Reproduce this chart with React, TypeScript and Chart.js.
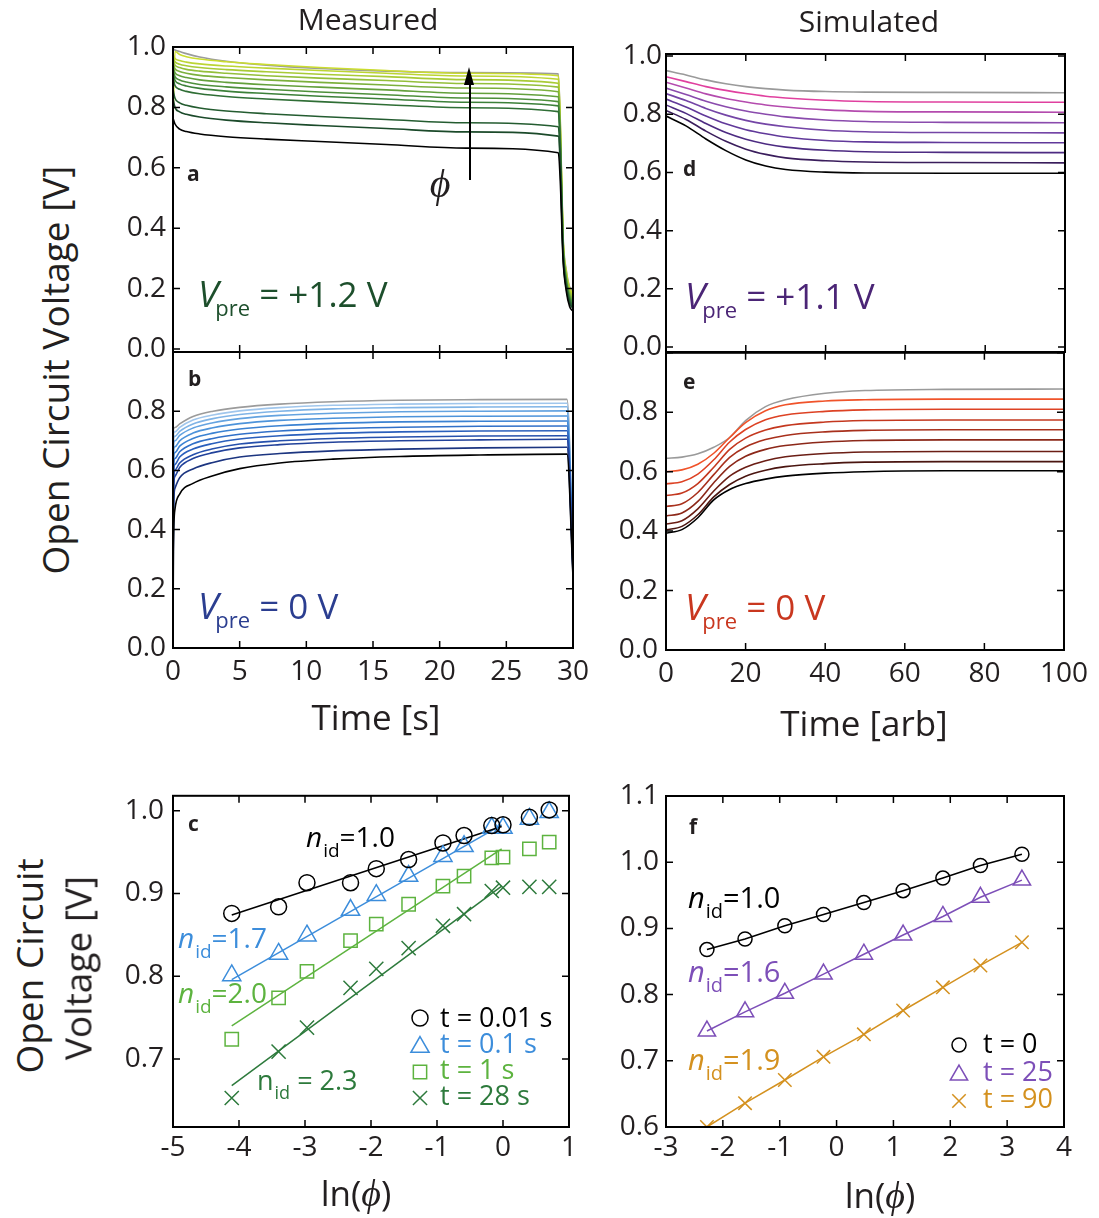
import React, { useEffect, useRef } from 'react';
import { Chart, registerables } from 'chart.js';
import { drawPoint } from 'chart.js/helpers';

Chart.register(...registerables);

const FONT = '"Open Sans", "Liberation Sans", sans-serif';
const SERIF = '"Liberation Serif", "DejaVu Serif", serif';
const INK = '#231f20';
const PHI = '\u03D5';

// ---------- Panel a: measured, Vpre = +1.2 V ----------
const timeA = [0, 0.15, 0.5, 1, 2, 4, 7, 11, 16, 22, 28.9, 29.05, 29.25, 29.5, 29.75, 30];
const vocA = [
  [0.765, 0.745, 0.728, 0.72, 0.712, 0.703, 0.695, 0.687, 0.677, 0.665, 0.65, 0.55, 0.3, 0.19, 0.14, 0.125],
  [0.83, 0.8, 0.785, 0.777, 0.768, 0.758, 0.749, 0.74, 0.73, 0.719, 0.705, 0.6, 0.31, 0.2, 0.15, 0.135],
  [0.86, 0.83, 0.815, 0.807, 0.798, 0.788, 0.779, 0.77, 0.76, 0.749, 0.736, 0.62, 0.32, 0.21, 0.155, 0.14],
  [0.9, 0.872, 0.86, 0.853, 0.845, 0.836, 0.828, 0.819, 0.809, 0.799, 0.786, 0.66, 0.33, 0.215, 0.16, 0.145],
  [0.915, 0.89, 0.878, 0.871, 0.863, 0.854, 0.846, 0.837, 0.828, 0.817, 0.805, 0.67, 0.34, 0.22, 0.165, 0.15],
  [0.925, 0.902, 0.891, 0.884, 0.876, 0.868, 0.86, 0.851, 0.842, 0.831, 0.819, 0.68, 0.34, 0.225, 0.17, 0.155],
  [0.935, 0.915, 0.905, 0.899, 0.891, 0.883, 0.875, 0.867, 0.858, 0.847, 0.835, 0.69, 0.35, 0.23, 0.175, 0.16],
  [0.945, 0.928, 0.919, 0.913, 0.906, 0.899, 0.891, 0.883, 0.874, 0.864, 0.852, 0.7, 0.35, 0.235, 0.18, 0.165],
  [0.955, 0.94, 0.932, 0.926, 0.92, 0.913, 0.905, 0.897, 0.889, 0.879, 0.867, 0.71, 0.36, 0.24, 0.185, 0.17],
  [0.965, 0.951, 0.943, 0.938, 0.932, 0.925, 0.918, 0.91, 0.902, 0.892, 0.88, 0.72, 0.36, 0.245, 0.19, 0.175],
  [0.975, 0.962, 0.955, 0.95, 0.944, 0.937, 0.93, 0.922, 0.913, 0.904, 0.893, 0.73, 0.37, 0.25, 0.195, 0.18],
  [0.75, 0.985, 0.975, 0.968, 0.96, 0.951, 0.942, 0.932, 0.922, 0.913, 0.905, 0.74, 0.37, 0.255, 0.2, 0.185],
  [0.995, 0.99, 0.985, 0.978, 0.967, 0.953, 0.94, 0.929, 0.92, 0.915, 0.911, 0.75, 0.38, 0.26, 0.205, 0.19],
];
const colorsA = ['#000000', '#1b4a2a', '#245c30', '#2f6e35', '#3c8039', '#4e903b', '#64a03c', '#7cb03c', '#94bf3a', '#a9cb36', '#bcd533', '#cbdd2f', '#9b9b9b'];

// ---------- Panel b: measured, Vpre = 0 V ----------
const timeB = [0, 0.03, 0.15, 0.5, 1.5, 3, 5, 8, 12, 17, 23, 29.55, 30];
const vocB = [
  [0, 0.33, 0.47, 0.52, 0.556, 0.582, 0.606, 0.625, 0.638, 0.647, 0.652, 0.655, 0.24],
  [0, 0.45, 0.54, 0.575, 0.605, 0.627, 0.645, 0.657, 0.666, 0.672, 0.676, 0.678, 0.25],
  [0, 0.52, 0.58, 0.61, 0.64, 0.66, 0.676, 0.687, 0.695, 0.7, 0.703, 0.705, 0.26],
  [0, 0.55, 0.6, 0.625, 0.653, 0.673, 0.689, 0.7, 0.708, 0.713, 0.716, 0.717, 0.27],
  [0, 0.58, 0.62, 0.645, 0.672, 0.691, 0.706, 0.717, 0.725, 0.73, 0.733, 0.734, 0.28],
  [0, 0.61, 0.64, 0.663, 0.69, 0.708, 0.722, 0.733, 0.741, 0.746, 0.749, 0.75, 0.28],
  [0, 0.64, 0.66, 0.682, 0.708, 0.726, 0.74, 0.751, 0.759, 0.764, 0.766, 0.767, 0.29],
  [0, 0.67, 0.68, 0.7, 0.726, 0.744, 0.758, 0.769, 0.776, 0.781, 0.783, 0.784, 0.3],
  [0, 0.69, 0.7, 0.718, 0.743, 0.761, 0.775, 0.786, 0.793, 0.798, 0.8, 0.801, 0.3],
  [0, 0.71, 0.715, 0.732, 0.757, 0.775, 0.789, 0.8, 0.808, 0.812, 0.814, 0.815, 0.31],
  [0, 0.725, 0.73, 0.745, 0.77, 0.787, 0.801, 0.812, 0.82, 0.824, 0.826, 0.827, 0.31],
  [0, 0.74, 0.745, 0.757, 0.782, 0.8, 0.813, 0.824, 0.832, 0.837, 0.839, 0.84, 0.32],
];
const colorsB = ['#000000', '#1c3580', '#22429a', '#2650ac', '#2a5fbc', '#3170c8', '#3b82d2', '#4d93da', '#64a3e0', '#80b4e6', '#a0c6ec', '#9b9b9b'];

// ---------- Panel d: simulated, Vpre = +1.1 V ----------
const timeD = [0, 5, 10, 15, 20, 25, 30, 40, 50, 70, 100];
const vocD = [
  [0.794, 0.76, 0.715, 0.675, 0.643, 0.622, 0.61, 0.601, 0.598, 0.597, 0.597],
  [0.813, 0.782, 0.742, 0.707, 0.68, 0.662, 0.65, 0.64, 0.636, 0.634, 0.633],
  [0.832, 0.803, 0.768, 0.737, 0.714, 0.698, 0.687, 0.676, 0.671, 0.669, 0.668],
  [0.852, 0.825, 0.794, 0.767, 0.747, 0.733, 0.722, 0.71, 0.705, 0.703, 0.702],
  [0.871, 0.847, 0.82, 0.797, 0.779, 0.766, 0.757, 0.745, 0.74, 0.737, 0.736],
  [0.89, 0.868, 0.845, 0.826, 0.811, 0.8, 0.791, 0.78, 0.775, 0.772, 0.771],
  [0.91, 0.89, 0.87, 0.854, 0.842, 0.832, 0.825, 0.815, 0.81, 0.808, 0.807],
  [0.929, 0.912, 0.895, 0.882, 0.871, 0.862, 0.856, 0.848, 0.844, 0.842, 0.841],
  [0.95, 0.935, 0.918, 0.905, 0.895, 0.888, 0.883, 0.878, 0.876, 0.875, 0.874],
];
const colorsD = ['#000000', '#3a1d5c', '#4d2b82', '#61399a', '#7445a6', '#8a4bad', '#b44bae', '#e0409f', '#9a9a9a'];

// ---------- Panel e: simulated, Vpre = 0 V ----------
const timeE = [0, 4, 8, 12, 16, 20, 25, 30, 40, 50, 70, 100];
const vocE = [
  [0.393, 0.405, 0.445, 0.505, 0.54, 0.56, 0.575, 0.585, 0.595, 0.6, 0.603, 0.603],
  [0.404, 0.416, 0.455, 0.515, 0.557, 0.585, 0.605, 0.617, 0.627, 0.632, 0.634, 0.634],
  [0.424, 0.435, 0.475, 0.535, 0.585, 0.615, 0.637, 0.65, 0.661, 0.666, 0.668, 0.668],
  [0.451, 0.461, 0.5, 0.563, 0.618, 0.652, 0.675, 0.688, 0.7, 0.705, 0.707, 0.707],
  [0.483, 0.492, 0.53, 0.59, 0.648, 0.683, 0.708, 0.722, 0.734, 0.739, 0.741, 0.741],
  [0.52, 0.528, 0.56, 0.615, 0.675, 0.713, 0.74, 0.755, 0.767, 0.772, 0.774, 0.774],
  [0.559, 0.566, 0.592, 0.64, 0.7, 0.742, 0.775, 0.791, 0.803, 0.808, 0.81, 0.81],
  [0.6, 0.606, 0.625, 0.662, 0.715, 0.765, 0.805, 0.825, 0.838, 0.842, 0.844, 0.844],
  [0.645, 0.649, 0.66, 0.682, 0.715, 0.772, 0.819, 0.842, 0.864, 0.873, 0.877, 0.878],
];
const colorsE = ['#000000', '#4a1510', '#6b1e15', '#8c2819', '#a8301c', '#c4381f', '#dd4224', '#f0532a', '#9a9a9a'];

// ---------- Panel c: measured Voc vs ln(phi) ----------
const lnPhiC = [-4.11, -3.4, -2.97, -2.31, -1.92, -1.43, -0.91, -0.59, -0.17, 0.0, 0.4, 0.7];
const vocC_t001 = [0.876, 0.884, 0.913, 0.913, 0.93, 0.941, 0.961, 0.97, 0.982, 0.983, 0.992, 1.001];
const vocC_t01 = [0.801, 0.827, 0.849, 0.88, 0.898, 0.921, 0.945, 0.957, 0.979, 0.979, 0.99, 0.998];
const vocC_t1 = [0.724, 0.774, 0.806, 0.843, 0.863, 0.887, 0.909, 0.921, 0.943, 0.944, 0.954, 0.962];
const vocC_t28 = [0.653, 0.709, 0.738, 0.786, 0.809, 0.834, 0.861, 0.875, 0.903, 0.907, 0.908, 0.908];
const fitLnPhiC = [-4.11, -0.02];
const fitC_t001 = [0.874, 0.981];
const fitC_t01 = [0.796, 0.983];
const fitC_t1 = [0.74, 0.954];
const fitC_t28 = [0.668, 0.909];
const legendC = ['t = 0.01 s', 't = 0.1 s', 't = 1 s', 't = 28 s'];

// ---------- Panel f: simulated Voc vs ln(phi) ----------
const lnPhiF = [-2.28, -1.61, -0.91, -0.23, 0.48, 1.17, 1.87, 2.53, 3.26];
const vocF_t0 = [0.868, 0.884, 0.904, 0.921, 0.939, 0.957, 0.976, 0.995, 1.012];
const vocF_t25 = [0.745, 0.774, 0.802, 0.831, 0.861, 0.89, 0.918, 0.947, 0.973];
const vocF_t90 = [0.6, 0.636, 0.671, 0.706, 0.74, 0.776, 0.811, 0.844, 0.879];
const legendF = ['t = 0', 't = 25', 't = 90'];

// ---------- tick values ----------
const ticksTimeMeas = [0, 5, 10, 15, 20, 25, 30];
const ticksTimeSim = [0, 20, 40, 60, 80, 100];
const ticksV = [0, 0.2, 0.4, 0.6, 0.8, 1.0];
const ticksVlow = [0, 0.2, 0.4, 0.6, 0.8];
const ticksLnC = [-5, -4, -3, -2, -1, 0, 1];
const ticksVC = [0.7, 0.8, 0.9, 1.0];
const ticksLnF = [-3, -2, -1, 0, 1, 2, 3, 4];
const ticksVF = [0.6, 0.7, 0.8, 0.9, 1.0, 1.1];

const BLUE = '#3c8ddb';
const GREEN = '#5db33f';
const DKGREEN = '#2d7a3c';
const PURPLE = '#7d4fb8';
const ORANGE = '#d4911f';

type Marker = { x: number; y: number; style: string; radius: number; color: string };
type Spec = {
  id: string;
  plot: { l: number; r: number; t: number; b: number };
  xMin: number; xMax: number; yMin: number; yMax: number;
  xTicks: number[]; yTicks: number[];
  xLabels: number[] | null; yLabels: number[];
  yDec: number; yPad: number; xPad: number;
  datasets: any[];
  markers?: Marker[];
};

const Y_AXIS_W = 90, X_AXIS_H = 50, PAD_T = 24, PAD_R = 30, PAD_B = 24;

function geom(s: Spec) {
  const left = s.plot.l - Y_AXIS_W;
  const top = s.plot.t - PAD_T;
  const width = s.plot.r + PAD_R - left;
  const height = s.plot.b + (s.xLabels ? X_AXIS_H : PAD_B) - top;
  return { left, top, width, height };
}

function traces(t: number[], series: number[][], colors: string[]) {
  return series.map((ys, i) => ({
    data: t.map((x, j) => ({ x, y: ys[j] })),
    borderColor: colors[i],
    borderWidth: 1.6,
    pointRadius: 0,
    cubicInterpolationMode: 'monotone',
    fill: false,
  }));
}

function points(xs: number[], ys: number[], color: string, style: string, radius: number, showLine = false) {
  return {
    data: xs.map((x, j) => ({ x, y: ys[j] })),
    borderColor: color,
    backgroundColor: 'rgba(0,0,0,0)',
    pointBorderColor: color,
    pointBackgroundColor: 'rgba(0,0,0,0)',
    pointStyle: style,
    pointRadius: radius,
    pointBorderWidth: 1.5,
    borderWidth: 1.5,
    showLine,
    tension: 0,
    fill: false,
  };
}

function fitLine(xs: number[], ys: number[], color: string) {
  return {
    data: xs.map((x, j) => ({ x, y: ys[j] })),
    borderColor: color,
    borderWidth: 1.5,
    pointRadius: 0,
    tension: 0,
    fill: false,
  };
}

function framePlugin(s: Spec, g: { left: number; top: number }) {
  return {
    id: 'frame_' + s.id,
    afterDraw(chart: any) {
      const { ctx, chartArea } = chart;
      const { left, right, top, bottom } = chartArea;
      const xs = chart.scales.x, ys = chart.scales.y;
      const L = 7;
      ctx.save();
      ctx.strokeStyle = '#000';
      ctx.lineWidth = 1.5;
      ctx.beginPath();
      s.xTicks.forEach((v) => {
        const p = xs.getPixelForValue(v);
        ctx.moveTo(p, bottom); ctx.lineTo(p, bottom - L);
        ctx.moveTo(p, top); ctx.lineTo(p, top + L);
      });
      s.yTicks.forEach((v) => {
        const p = ys.getPixelForValue(v);
        ctx.moveTo(left, p); ctx.lineTo(left + L, p);
        ctx.moveTo(right, p); ctx.lineTo(right - L, p);
      });
      ctx.stroke();
      ctx.lineWidth = 2;
      ctx.strokeRect(left, top, right - left, bottom - top);
      (s.markers || []).forEach((m) => {
        ctx.strokeStyle = m.color;
        ctx.fillStyle = 'rgba(0,0,0,0)';
        ctx.lineWidth = 1.5;
        drawPoint(ctx, { pointStyle: m.style, radius: m.radius, rotation: 0, borderWidth: 1.5 } as any, m.x - g.left, m.y - g.top);
      });
      ctx.restore();
    },
  };
}

function buildConfig(s: Spec, g: any): any {
  const tickFont = { family: FONT, size: 28 };
  return {
    type: 'line',
    data: { datasets: s.datasets },
    options: {
      animation: false,
      responsive: false,
      maintainAspectRatio: false,
      devicePixelRatio: 1,
      events: [],
      layout: { padding: { top: PAD_T, right: PAD_R, bottom: s.xLabels ? 0 : PAD_B, left: 0 } },
      plugins: { legend: { display: false }, tooltip: { enabled: false } },
      scales: {
        x: {
          type: 'linear',
          min: s.xMin,
          max: s.xMax,
          display: !!s.xLabels,
          grid: { display: false, drawTicks: false },
          border: { display: false },
          ticks: {
            font: tickFont, color: INK, padding: s.xPad, maxRotation: 0, minRotation: 0, autoSkip: false,
            callback: (v: any) => String(Math.round(Number(v))),
          },
          afterBuildTicks: (sc: any) => { sc.ticks = (s.xLabels || []).map((v) => ({ value: v })); },
          afterFit: (sc: any) => { if (s.xLabels) sc.height = X_AXIS_H; },
        },
        y: {
          type: 'linear',
          min: s.yMin,
          max: s.yMax,
          grid: { display: false, drawTicks: false },
          border: { display: false },
          ticks: {
            font: tickFont, color: INK, padding: s.yPad, autoSkip: false,
            callback: (v: any) => Number(v).toFixed(s.yDec),
          },
          afterBuildTicks: (sc: any) => { sc.ticks = s.yLabels.map((v) => ({ value: v })); },
          afterFit: (sc: any) => { sc.width = Y_AXIS_W; },
        },
      },
    },
    plugins: [framePlugin(s, g)],
  };
}

function Panel({ spec }: { spec: Spec }) {
  const ref = useRef<HTMLCanvasElement>(null);
  const g = geom(spec);
  useEffect(() => {
    const chart = new Chart(ref.current as HTMLCanvasElement, buildConfig(spec, g));
    return () => chart.destroy();
  }, []);
  return (
    <canvas
      ref={ref}
      width={g.width}
      height={g.height}
      style={{ position: 'absolute', left: g.left, top: g.top, width: g.width, height: g.height }}
    />
  );
}

const specA: Spec = {
  id: 'a', plot: { l: 173, r: 573, t: 47, b: 352 },
  xMin: 0, xMax: 30, yMin: -0.01, yMax: 1.0,
  xTicks: ticksTimeMeas, yTicks: ticksV, xLabels: null, yLabels: ticksV,
  yDec: 1, yPad: 7, xPad: 7,
  datasets: traces(timeA, vocA, colorsA),
};
const specB: Spec = {
  id: 'b', plot: { l: 173, r: 573, t: 352, b: 648 },
  xMin: 0, xMax: 30, yMin: 0, yMax: 1.0,
  xTicks: ticksTimeMeas, yTicks: ticksV, xLabels: ticksTimeMeas, yLabels: ticksVlow,
  yDec: 1, yPad: 7, xPad: 7,
  datasets: traces(timeB, vocB, colorsB),
};
const specD: Spec = {
  id: 'd', plot: { l: 666, r: 1065, t: 54, b: 352 },
  xMin: 0, xMax: 100, yMin: -0.017, yMax: 1.007,
  xTicks: ticksTimeSim, yTicks: ticksV, xLabels: null, yLabels: ticksV,
  yDec: 1, yPad: 4, xPad: 7,
  datasets: traces(timeD, vocD, colorsD),
};
const specE: Spec = {
  id: 'e', plot: { l: 666, r: 1065, t: 352, b: 650 },
  xMin: 0, xMax: 100, yMin: 0, yMax: 1.0,
  xTicks: ticksTimeSim, yTicks: ticksV, xLabels: ticksTimeSim, yLabels: ticksVlow,
  yDec: 1, yPad: 8, xPad: 7,
  datasets: traces(timeE, vocE, colorsE),
};
const specC: Spec = {
  id: 'c', plot: { l: 173, r: 569, t: 794, b: 1127 },
  xMin: -5, xMax: 1, yMin: 0.618, yMax: 1.018,
  xTicks: ticksLnC, yTicks: ticksVC, xLabels: ticksLnC, yLabels: ticksVC,
  yDec: 1, yPad: 9, xPad: 4,
  datasets: [
    points(lnPhiC, vocC_t001, '#000000', 'circle', 8),
    points(lnPhiC, vocC_t01, BLUE, 'triangle', 10.5),
    points(lnPhiC, vocC_t1, GREEN, 'rect', 9.4),
    points(lnPhiC, vocC_t28, DKGREEN, 'crossRot', 10),
    fitLine(fitLnPhiC, fitC_t001, '#000000'),
    fitLine(fitLnPhiC, fitC_t01, BLUE),
    fitLine(fitLnPhiC, fitC_t1, GREEN),
    fitLine(fitLnPhiC, fitC_t28, DKGREEN),
  ],
  markers: [
    { x: 420, y: 1018, style: 'circle', radius: 8, color: '#000000' },
    { x: 420, y: 1047, style: 'triangle', radius: 10.5, color: BLUE },
    { x: 420, y: 1072, style: 'rect', radius: 9.4, color: GREEN },
    { x: 420, y: 1098, style: 'crossRot', radius: 10, color: DKGREEN },
  ],
};
const specF: Spec = {
  id: 'f', plot: { l: 666, r: 1064, t: 796, b: 1127 },
  xMin: -3, xMax: 4, yMin: 0.6, yMax: 1.1,
  xTicks: ticksLnF, yTicks: ticksVF, xLabels: ticksLnF, yLabels: ticksVF,
  yDec: 1, yPad: 7, xPad: 4,
  datasets: [
    points(lnPhiF, vocF_t0, '#000000', 'circle', 7, true),
    points(lnPhiF, vocF_t25, PURPLE, 'triangle', 10, true),
    points(lnPhiF, vocF_t90, ORANGE, 'crossRot', 9.5, true),
  ],
  markers: [
    { x: 959, y: 1045, style: 'circle', radius: 7, color: '#000000' },
    { x: 959, y: 1075, style: 'triangle', radius: 10, color: PURPLE },
    { x: 959, y: 1101, style: 'crossRot', radius: 9.5, color: ORANGE },
  ],
};

// text placed by baseline (Open Sans metrics: baseline at 0.888em in a line-height:1 box)
function T(props: { x: number; y: number; size: number; color?: string; bold?: boolean; children: any; center?: boolean }) {
  const { x, y, size, color = INK, bold, children, center } = props;
  return (
    <div
      style={{
        position: 'absolute', left: x, top: y - 0.888 * size, fontSize: size, lineHeight: 1,
        whiteSpace: 'pre', color, fontWeight: bold ? 700 : 400, fontFamily: FONT,
        transform: center ? 'translateX(-50%)' : undefined,
      }}
    >
      {children}
    </div>
  );
}

function RotTitle({ x, y, size, text }: { x: number; y: number; size: number; text: string }) {
  return (
    <div
      style={{
        position: 'absolute', left: x, top: y, fontSize: size, lineHeight: 1, whiteSpace: 'pre',
        color: INK, fontFamily: FONT, transform: 'translate(-50%, -50%) rotate(-90deg)',
      }}
    >
      {text}
    </div>
  );
}

function Vpre({ x, y, color, value }: { x: number; y: number; color: string; value: string }) {
  return (
    <T x={x} y={y} size={35} color={color}>
      <span style={{ fontStyle: 'italic', fontSize: 37 }}>V</span>
      <span style={{ fontSize: 22, position: 'relative', top: 9, marginLeft: -3 }}>pre</span>
      <span>{' = ' + value}</span>
    </T>
  );
}

function Nid({ x, y, color, value, size = 28, upright = false }: { x: number; y: number; color: string; value: string; size?: number; upright?: boolean }) {
  return (
    <T x={x} y={y} size={size} color={color}>
      <span style={{ fontStyle: upright ? 'normal' : 'italic' }}>n</span>
      <span style={{ fontSize: Math.round(size * 0.68), position: 'relative', top: Math.round(size * 0.35), marginLeft: 1 }}>id</span>
      <span>{value}</span>
    </T>
  );
}

function LnPhi({ x, y }: { x: number; y: number }) {
  return (
    <T x={x} y={y} size={35} center>
      <span>ln(</span>
      <span style={{ fontFamily: SERIF, fontStyle: 'italic', fontSize: 38 }}>{PHI}</span>
      <span>)</span>
    </T>
  );
}

export default function App() {
  return (
    <div
      style={{
        position: 'absolute', left: 0, top: 0, width: 1099, height: 1218, background: '#ffffff',
        overflow: 'hidden', fontFamily: FONT,
      }}
    >
      <Panel spec={specA} />
      <Panel spec={specB} />
      <Panel spec={specD} />
      <Panel spec={specE} />
      <Panel spec={specC} />
      <Panel spec={specF} />

      {/* column headings */}
      <T x={368} y={31} size={30} center>Measured</T>
      <T x={869} y={33} size={30} center>Simulated</T>

      {/* axis titles */}
      <RotTitle x={54} y={370} size={37} text="Open Circuit Voltage [V]" />
      <T x={376} y={730} size={35} center>Time [s]</T>
      <T x={864} y={736} size={35} center>Time [arb]</T>
      <RotTitle x={28} y={966} size={37} text="Open Circuit" />
      <RotTitle x={77} y={968} size={37} text="Voltage [V]" />
      <LnPhi x={356} y={1205} />
      <LnPhi x={880} y={1207} />

      {/* panel letters */}
      <T x={187} y={182} size={21} bold>a</T>
      <T x={188} y={387} size={21} bold>b</T>
      <T x={188} y={832} size={21} bold>c</T>
      <T x={683} y={177} size={21} bold>d</T>
      <T x={683} y={390} size={21} bold>e</T>
      <T x={689} y={835} size={21} bold>f</T>

      {/* Vpre annotations */}
      <Vpre x={198} y={305} color="#1d4f2c" value="+1.2 V" />
      <Vpre x={198} y={617} color="#2b3e90" value="0 V" />
      <Vpre x={685} y={307} color="#4b2576" value="+1.1 V" />
      <Vpre x={685} y={618} color="#c9371f" value="0 V" />

      {/* arrow + phi in panel a */}
      <div style={{ position: 'absolute', left: 468.5, top: 84, width: 2, height: 96, background: '#000' }} />
      <div
        style={{
          position: 'absolute', left: 464, top: 67, width: 0, height: 0,
          borderLeft: '5.5px solid transparent', borderRight: '5.5px solid transparent', borderBottom: '18px solid #000',
        }}
      />
      <div
        style={{
          position: 'absolute', left: 440, top: 184, fontFamily: SERIF, fontStyle: 'italic', fontSize: 40,
          lineHeight: 1, transform: 'translate(-50%, -50%)', color: INK,
        }}
      >
        {PHI}
      </div>

      {/* panel c labels */}
      <Nid x={306} y={847} color="#000000" value="=1.0" />
      <Nid x={178} y={948} color={BLUE} value="=1.7" />
      <Nid x={178} y={1003} color={GREEN} value="=2.0" />
      <Nid x={257} y={1090} color={DKGREEN} value=" = 2.3" size={27} upright />
      <T x={440} y={1027} size={27} color="#000000">{legendC[0]}</T>
      <T x={440} y={1053} size={27} color={BLUE}>{legendC[1]}</T>
      <T x={440} y={1079} size={27} color={GREEN}>{legendC[2]}</T>
      <T x={440} y={1105} size={27} color={DKGREEN}>{legendC[3]}</T>

      {/* panel f labels */}
      <Nid x={688} y={908} color="#000000" value="=1.0" size={29} />
      <Nid x={688} y={982} color={PURPLE} value="=1.6" size={29} />
      <Nid x={688} y={1070} color={ORANGE} value="=1.9" size={29} />
      <T x={983} y={1053} size={27} color="#000000">{legendF[0]}</T>
      <T x={983} y={1081} size={27} color={PURPLE}>{legendF[1]}</T>
      <T x={983} y={1108} size={27} color={ORANGE}>{legendF[2]}</T>
    </div>
  );
}
